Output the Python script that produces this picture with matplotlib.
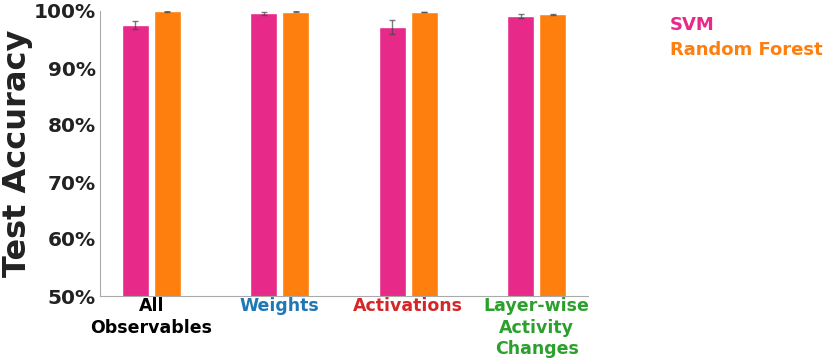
import numpy as np
import matplotlib.pyplot as plt

categories = ['All\nObservables', 'Weights', 'Activations', 'Layer-wise\nActivity\nChanges']
cat_colors = ['black', '#1f77b4', '#d62728', '#2ca02c']
svm_acc = [97.6, 99.6, 97.2, 99.1]
svm_err = [0.7, 0.3, 1.2, 0.3]
rf_acc = [99.95, 99.9, 99.8, 99.4]
rf_err = [0.05, 0.05, 0.05, 0.1]

fig = plt.figure(figsize=(8.3, 3.58), dpi=100)
ax = fig.add_axes([100/830, 1-296/358, 488/830, 285/358])

x = np.arange(len(categories))
w = 0.21
ax.bar(x - 0.125, svm_acc, w, yerr=svm_err, color='#e7298a', edgecolor='white',
       linewidth=1, error_kw=dict(ecolor='#444444', capsize=2, elinewidth=1, alpha=0.7))
ax.bar(x + 0.125, rf_acc, w, yerr=rf_err, color='#ff7f0e', edgecolor='white',
       linewidth=1, error_kw=dict(ecolor='#444444', capsize=2, elinewidth=1, alpha=0.7))

ax.set_ylim(50, 100)
ax.set_xlim(-0.4, 3.4)
ax.set_yticks([50, 60, 70, 80, 90, 100])
ax.set_yticklabels(['%d%%' % v for v in [50, 60, 70, 80, 90, 100]],
                   fontsize=14.5, fontweight='bold', color='#222222')
ax.set_xticks(x)
ax.set_xticklabels(categories, fontsize=12.5, fontweight='bold', linespacing=1.25)
for lab, c in zip(ax.get_xticklabels(), cat_colors):
    lab.set_color(c)
ax.tick_params(axis='y', length=0, pad=3)
ax.tick_params(axis='x', length=0, pad=1)
ax.set_ylabel('Test Accuracy', fontsize=23, fontweight='bold', color='#222222')
ax.yaxis.set_label_coords(-0.137, 0.5)

for s in ['top', 'right']:
    ax.spines[s].set_visible(False)
for s in ['left', 'bottom']:
    ax.spines[s].set_color('#aaaaaa')

fig.text(670/830, 1-25/358, 'SVM', color='#e7298a', fontsize=13, fontweight='bold', va='center')
fig.text(670/830, 1-50/358, 'Random Forest', color='#ff7f0e', fontsize=13, fontweight='bold', va='center')

fig.savefig('out.png', dpi=100)
